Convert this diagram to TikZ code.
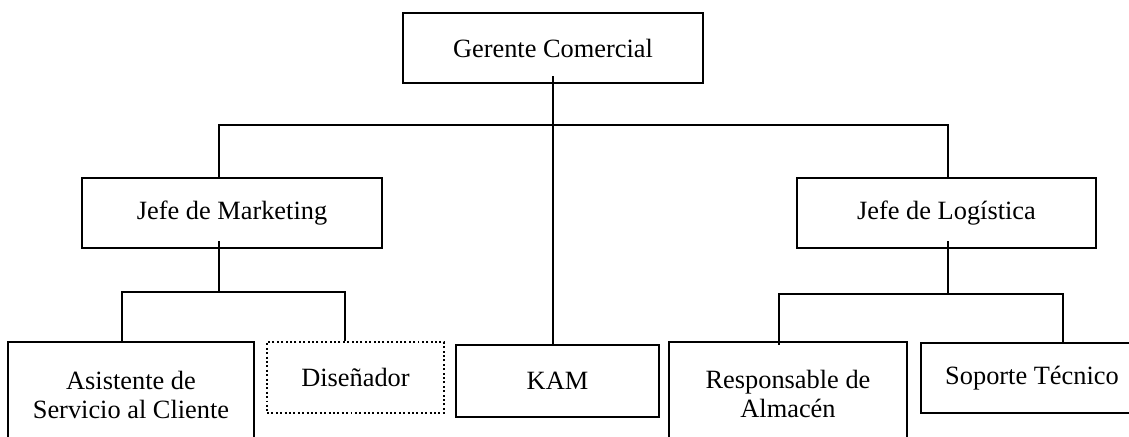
\documentclass[tikz,border=0pt]{standalone}
\usepackage{fontspec}
\setmainfont{Liberation Serif}
\newdimen\unitpx
\unitpx=0.455pt

\tikzset{
  box/.style={draw,rectangle,line width=0.9pt,inner sep=0pt,align=center,
    font=\fontsize{12}{13.5}\selectfont},
  dotbox/.style={box,line width=0.9pt,dash pattern=on 0.9pt off 1.1pt},
  link/.style={line width=0.8pt}
}

\begin{document}
\begin{tikzpicture}[x=0.455pt,y=-0.455pt]
  \useasboundingbox (0,0) rectangle (1129,437);
  \clip (0,0) rectangle (1129,437);
  \node (ger) [box,minimum width=300\unitpx,minimum height=70\unitpx] at (553,48) {Gerente Comercial};
  \node (mkt) [box,minimum width=300\unitpx,minimum height=70\unitpx] at (232,213) {Jefe de Marketing};
  \node (log) [box,minimum width=299\unitpx,minimum height=70\unitpx] at (946.5,213) {Jefe de Logística};
  \node (asi) [box,minimum width=246\unitpx,minimum height=106\unitpx] at (131,395) {Asistente de\\Servicio al Cliente};
  \node (dis) [dotbox,minimum width=177\unitpx,minimum height=71\unitpx] at (355.5,377.5) {Diseñador};
  \node (kam) [box,minimum width=203\unitpx,minimum height=72\unitpx] at (557.5,381) {KAM};
  \node (res) [box,minimum width=238\unitpx,minimum height=104\unitpx] at (788,394) {Responsable de\\Almacén};
  \node (sop) [box,minimum width=222\unitpx,minimum height=70\unitpx] at (1032,378) {Soporte Técnico};
  \coordinate (busL) at (219,125);
  \coordinate (busR) at (948,125);
  \coordinate (subL1) at (122,292);
  \coordinate (subL2) at (345,292);
  \coordinate (subR1) at (779,294);
  \coordinate (subR2) at (1063,294);
  \draw[link]
    ([yshift=3.6pt]ger.south) -- (ger.south |- kam.north)
    (busL |- mkt.north) -- (busL) -- (busR) -- (busR |- log.north)
    ([yshift=3.6pt]mkt.south -| busL) -- (subL1 -| busL)
    (subL1 |- asi.north) -- (subL1) -- (subL2) -- (subL2 |- dis.north)
    ([yshift=3.6pt]log.south -| busR) -- (subR1 -| busR)
    ([yshift=-1.8pt]subR1 |- res.north) -- (subR1) -- (subR2) -- (subR2 |- sop.north);
\end{tikzpicture}
\end{document}
